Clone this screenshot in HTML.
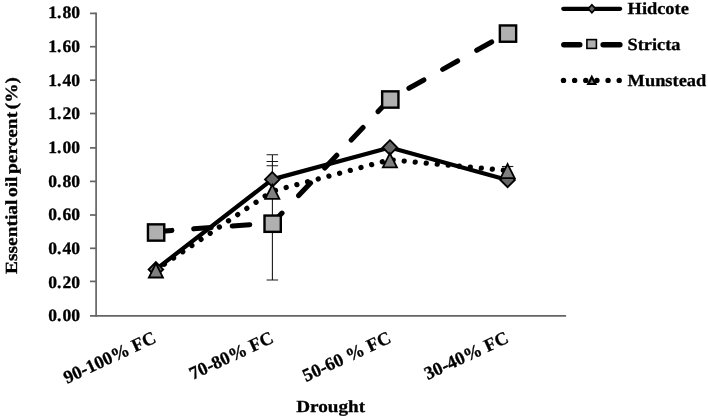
<!DOCTYPE html>
<html><head><meta charset="utf-8"><title>Chart</title>
<style>
html,body{margin:0;padding:0;background:#fff;}
body{width:708px;height:419px;overflow:hidden;}
svg{display:block;will-change:transform;}
text{font-family:"Liberation Serif",serif;font-weight:bold;fill:#000;stroke:#000;stroke-width:0.3px;text-rendering:geometricPrecision;}
</style></head><body>
<svg width="708" height="419" viewBox="0 0 708 419">
<rect width="708" height="419" fill="#fff"/>
<g stroke="#646464" stroke-width="1.7" fill="none">
<line x1="96.1" y1="12.55" x2="96.1" y2="316.75"/>
<line x1="90.00" y1="315.9" x2="566.1" y2="315.9"/>
<line x1="90.00" y1="281.40" x2="96.1" y2="281.40"/>
<line x1="90.00" y1="248.30" x2="96.1" y2="248.30"/>
<line x1="90.00" y1="215.00" x2="96.1" y2="215.00"/>
<line x1="90.00" y1="181.40" x2="96.1" y2="181.40"/>
<line x1="90.00" y1="147.90" x2="96.1" y2="147.90"/>
<line x1="90.00" y1="113.50" x2="96.1" y2="113.50"/>
<line x1="90.00" y1="80.20" x2="96.1" y2="80.20"/>
<line x1="90.00" y1="46.70" x2="96.1" y2="46.70"/>
<line x1="90.00" y1="13.40" x2="96.1" y2="13.40"/>
</g>
<g font-size="17.6px" text-anchor="end">
<text x="80" y="321.30">0.<tspan dx="0.9">00</tspan></text>
<text x="80" y="287.64">0.<tspan dx="0.9">20</tspan></text>
<text x="80" y="253.99">0.<tspan dx="0.9">40</tspan></text>
<text x="80" y="220.33">0.<tspan dx="0.9">60</tspan></text>
<text x="80" y="186.68">0.<tspan dx="0.9">80</tspan></text>
<text x="80" y="153.02">1.<tspan dx="0.9">00</tspan></text>
<text x="80" y="119.37">1.<tspan dx="0.9">20</tspan></text>
<text x="80" y="85.71">1.<tspan dx="0.9">40</tspan></text>
<text x="80" y="52.06">1.<tspan dx="0.9">60</tspan></text>
<text x="80" y="18.40">1.<tspan dx="0.9">80</tspan></text>
</g>
<g stroke="#1a1a1a" stroke-width="1.1" fill="none">
<path d="M272.4 154.8V280 M266.6 154.8H278.1 M266.6 161.5H278.1 M266.6 165.8H278.1 M266.6 280H278.1"/>
<path d="M501.9 166.5H513.3"/>
</g>
<polyline points="155.9,269.4 272.3,179.4 389.9,147.5 507.6,179.9" fill="none" stroke="#000" stroke-width="4.2" stroke-linejoin="round" stroke-linecap="round"/>
<path d="M155.9 262.12L163.18 269.4L155.9 276.68L148.62 269.4Z" fill="#666" stroke="#000" stroke-width="1.85" stroke-linejoin="miter"/>
<path d="M272.3 172.12L279.58 179.4L272.3 186.68L265.02 179.4Z" fill="#666" stroke="#000" stroke-width="1.85" stroke-linejoin="miter"/>
<path d="M389.9 140.22L397.18 147.5L389.9 154.78L382.62 147.5Z" fill="#666" stroke="#000" stroke-width="1.85" stroke-linejoin="miter"/>
<path d="M507.6 172.62L514.88 179.9L507.6 187.18L500.32 179.9Z" fill="#666" stroke="#000" stroke-width="1.85" stroke-linejoin="miter"/>
<path d="M156.00 231.60L171.86 230.43 M193.70 228.82L211.15 227.53 M232.29 225.98L249.75 224.69 M270.59 223.15L272.65 223.00 M272.65 223.00L282.00 213.12 M298.63 195.55L310.53 182.98 M324.76 167.95L336.79 155.24 M351.22 139.99L363.04 127.50 M378.10 111.59L390.30 98.70 M408.93 88.27L423.85 79.92 M442.70 69.36L457.62 61.01 M476.73 50.31L491.65 41.96" fill="none" stroke="#000" stroke-width="5.1" stroke-linecap="round"/>
<rect x="147.95" y="224.35" width="16.3" height="16.3" fill="#b0b0b0" stroke="#000" stroke-width="2.4"/>
<rect x="264.50" y="215.55" width="16.3" height="16.3" fill="#b0b0b0" stroke="#000" stroke-width="2.4"/>
<rect x="382.15" y="91.35" width="16.3" height="16.3" fill="#b0b0b0" stroke="#000" stroke-width="2.4"/>
<rect x="499.85" y="25.45" width="16.3" height="16.3" fill="#b0b0b0" stroke="#000" stroke-width="2.4"/>
<line x1="155.9" y1="269.9" x2="272.3" y2="191.2" stroke="#000" stroke-width="5.3" stroke-linecap="round" stroke-dasharray="0.01 11.05" stroke-dashoffset="0.82"/>
<line x1="272.3" y1="191.2" x2="389.9" y2="159.8" stroke="#000" stroke-width="5.3" stroke-linecap="round" stroke-dasharray="0.01 11.05" stroke-dashoffset="7.76"/>
<line x1="389.9" y1="159.8" x2="507.6" y2="170.6" stroke="#000" stroke-width="5.3" stroke-linecap="round" stroke-dasharray="0.01 11.05" stroke-dashoffset="7.76"/>
<path d="M155.9 263.41L162.95 277.50H148.85Z" fill="#808080" stroke="#000" stroke-width="1.8" stroke-linejoin="miter"/>
<path d="M272.3 184.71L279.35 198.80H265.25Z" fill="#808080" stroke="#000" stroke-width="1.8" stroke-linejoin="miter"/>
<path d="M389.9 153.31L396.95 167.40H382.85Z" fill="#808080" stroke="#000" stroke-width="1.8" stroke-linejoin="miter"/>
<path d="M507.6 164.11L514.65 178.20H500.55Z" fill="#808080" stroke="#000" stroke-width="1.8" stroke-linejoin="miter"/>
<g font-size="18.4px" text-anchor="end">
<text transform="translate(157.2,341.8) rotate(-25)" x="0" y="0">90-100% FC</text>
<text transform="translate(274.7,341.8) rotate(-25)" x="0" y="0">70-80% FC</text>
<text transform="translate(392.2,341.8) rotate(-25)" x="0" y="0">50-60 % FC</text>
<text transform="translate(509.7,341.8) rotate(-25)" x="0" y="0">30-40% FC</text>
</g>
<text x="296.3" y="411.8" font-size="17px" textLength="68.8" lengthAdjust="spacingAndGlyphs">Drought</text>
<text transform="translate(16.6,274) rotate(-90)" font-size="17px" word-spacing="-2px" textLength="197" lengthAdjust="spacingAndGlyphs">Essential oil percent (%)</text>
<g>
<line x1="563.3" y1="8.8" x2="620.1" y2="8.8" stroke="#000" stroke-width="4.3" stroke-linecap="round"/>
<path d="M591.9 4.7L595.5 8.7L591.9 12.7L588.3 8.7Z" fill="#666" stroke="#000" stroke-width="1.7"/>
<line x1="563.8" y1="44.7" x2="579.8" y2="44.7" stroke="#000" stroke-width="5.4" stroke-linecap="round"/>
<line x1="603.1" y1="44.7" x2="619.9" y2="44.7" stroke="#000" stroke-width="5.4" stroke-linecap="round"/>
<rect x="586.9" y="39.6" width="9.5" height="8.8" fill="#b0b0b0" stroke="#000" stroke-width="1.6"/>
<line x1="563.5" y1="80.4" x2="621" y2="80.4" stroke="#000" stroke-width="5.4" stroke-linecap="round" stroke-dasharray="0.01 11.13"/>
<path d="M591.8 76.98L595.4 84H588.2Z" fill="#808080" stroke="#000" stroke-width="2.2"/>
<text x="627.6" y="13.6" font-size="17px" textLength="61.2" lengthAdjust="spacingAndGlyphs">Hidcote</text>
<text x="627.6" y="50.1" font-size="17px" textLength="52.8" lengthAdjust="spacingAndGlyphs">Stricta</text>
<text x="627.6" y="86.4" font-size="17px" textLength="78.6" lengthAdjust="spacingAndGlyphs">Munstead</text>
</g>
</svg></body></html>
